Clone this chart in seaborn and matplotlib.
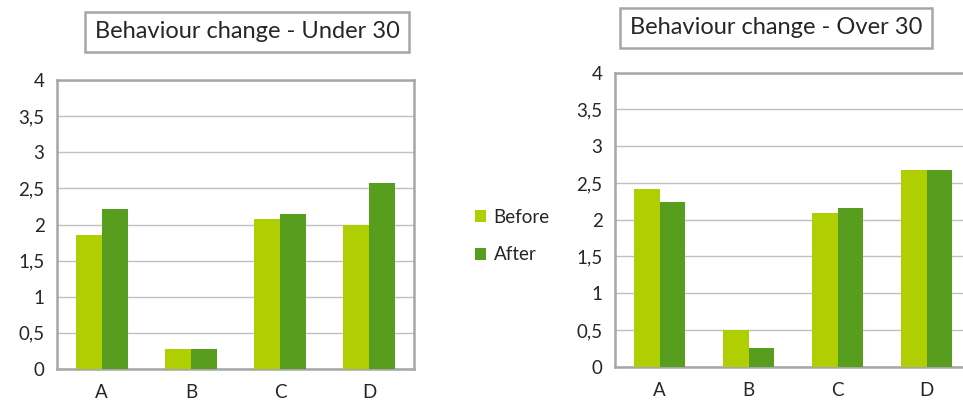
import pandas as pd
import matplotlib
matplotlib.use("Agg")
import matplotlib.pyplot as plt
import matplotlib.ticker as mticker
from matplotlib.patches import Patch
import seaborn as sns

groups = ["A", "B", "C", "D"]
under30_before = [1.85, 0.27, 2.08, 2.00]
under30_after = [2.22, 0.27, 2.14, 2.57]
over30_before = [2.42, 0.50, 2.09, 2.67]
over30_after = [2.245, 0.25, 2.16, 2.67]
periods = ["Before", "After"]
colors = {"Before": "#AFCF02", "After": "#579E1E"}

def to_long(before, after):
    return pd.DataFrame({
        "Group": groups * 2,
        "Score": before + after,
        "Period": ["Before"] * len(groups) + ["After"] * len(groups),
    })

df_under = to_long(under30_before, under30_after)
df_over = to_long(over30_before, over30_after)

sns.set_style("white")
plt.rcParams["font.family"] = ["Lato", "DejaVu Sans"]

fig = plt.figure(figsize=(9.63, 4.03), dpi=100)
ax1 = fig.add_axes([57 / 963, 34 / 403, 357 / 963, 289 / 403])
ax2 = fig.add_axes([615 / 963, 36.3 / 403, 356 / 963, 294 / 403])

comma = mticker.FuncFormatter(lambda v, p: f"{v:g}".replace(".", ","))

for ax, df in [(ax1, df_under), (ax2, df_over)]:
    sns.barplot(data=df, x="Group", y="Score", hue="Period", hue_order=periods,
                palette=colors, width=0.58, gap=0, saturation=1, linewidth=0,
                legend=False, ax=ax, zorder=3)
    ax.set_ylim(0, 4)
    ax.set_xlim(-0.5, 3.5)
    ax.set_yticks([i * 0.5 for i in range(9)])
    ax.yaxis.set_major_formatter(comma)
    ax.grid(axis="y", color="#c0c0c0", linewidth=1, zorder=0)
    ax.set_axisbelow(True)
    for s in ax.spines.values():
        s.set_visible(True)
        s.set_color("#a6a6a6")
        s.set_linewidth(1.8)
    ax.tick_params(length=0, labelsize=13.5, colors="#262626", pad=9)
    ax.tick_params(axis="x", pad=11)
    ax.set_xlabel("")
    ax.set_ylabel("")

box = dict(boxstyle="square,pad=0.4", fc="white", ec="#a6a6a6", lw=1.8)
fig.text(247 / 963, 1 - 32 / 403, "Behaviour change - Under 30", ha="center", va="center",
         fontsize=17, color="#262626", bbox=box)
fig.text(776 / 963, 1 - 28 / 403, "Behaviour change - Over 30", ha="center", va="center",
         fontsize=17, color="#262626", bbox=box)

handles = [Patch(facecolor=colors[p], edgecolor="none", label=p) for p in periods]
fig.legend(handles=handles, loc="center left", bbox_to_anchor=(458 / 963, 1 - 236 / 403),
           frameon=False, fontsize=13.5, handlelength=0.6, handleheight=0.6,
           handletextpad=0.4, labelspacing=1.1, labelcolor="#262626")

fig.savefig("out.png", dpi=100)
